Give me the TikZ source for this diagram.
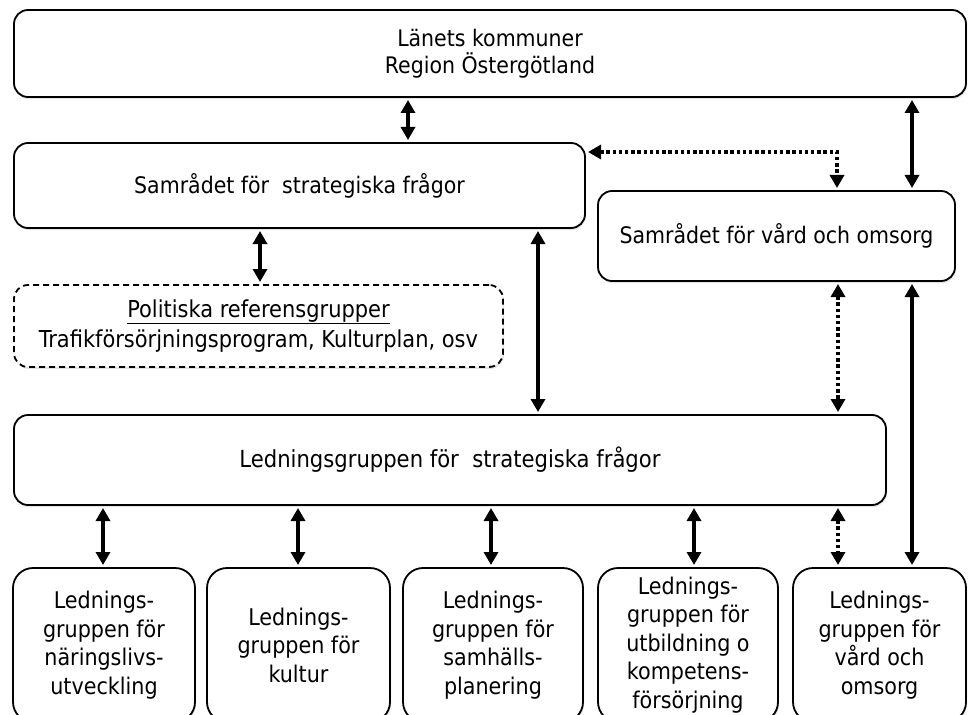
\documentclass[tikz,border=0pt]{standalone}
\usepackage{fontspec}
\setmainfont{DejaVu Sans Condensed}
\usetikzlibrary{arrows.meta,shadows,calc}
\begin{document}
\begin{tikzpicture}[x=1pt,y=-1pt,
  box/.style={draw, line width=1.8pt, rounded corners=14pt, fill=white, align=center,
    inner sep=0pt, outer sep=0pt,
    drop shadow={opacity=0.22, shadow xshift=1pt, shadow yshift=-2pt},
    font=\fontsize{22.8}{27}\selectfont},
  dbox/.style={box, dashed, dash pattern=on 6pt off 4pt},
  lbox/.style={box, rounded corners=20pt, font=\fontsize{23}{28.5}\selectfont},
  arr/.style={line width=3.4pt, {Triangle[width=14pt,length=13pt]}-{Triangle[width=14pt,length=13pt]},
    shorten <=3pt, shorten >=3pt},
  darr/.style={arr, dash pattern=on 3.4pt off 2.8pt}
]
\useasboundingbox (0,0) rectangle (968,714);
\clip (0,0) rectangle (968,714);

% boxes
\node[box, minimum width=952, minimum height=87] (top) at (490,53.5)
  {Länets kommuner\\Region Östergötland};
\node[box, minimum width=571, minimum height=85] (sam) at (299.5,185.5)
  {Samrådet för~ strategiska frågor};
\node[box, minimum width=357, minimum height=90] (vard) at (776.5,236)
  {Samrådet för vård och omsorg};
\node[dbox, minimum width=489, minimum height=82, font=\fontsize{23.3}{30}\selectfont] (pol) at (258.5,326)
  {\underline{Politiska referensgrupper}\\Trafikförsörjningsprogram, Kulturplan, osv};
\node[box, minimum width=872, minimum height=90, font=\fontsize{23.5}{27}\selectfont] (led) at (450,460)
  {Ledningsgruppen för~ strategiska frågor};

\node[lbox, minimum width=182, minimum height=154] (b1) at (104,645)
  {Lednings-\\gruppen för\\näringslivs-\\utveckling};
\node[lbox, minimum width=183, minimum height=154] (b2) at (298.5,645)
  {Lednings-\\gruppen för\\kultur};
\node[lbox, minimum width=180, minimum height=154] (b3) at (493,645)
  {Lednings-\\gruppen för\\samhälls-\\planering};
\node[lbox, minimum width=180, minimum height=154] (b4) at (688,645)
  {Lednings-\\gruppen för\\utbildning o\\kompetens-\\försörjning};
\node[lbox, minimum width=173, minimum height=154] (b5) at (879.5,645)
  {Lednings-\\gruppen för\\vård och\\omsorg};

% x positions of connectors
\coordinate (xa) at (408,0);
\coordinate (xb) at (260,0);
\coordinate (xc) at (538,0);
\coordinate (xd) at (837,152);
\coordinate (xe) at (912,0);
\coordinate (x1) at (103,0);
\coordinate (x2) at (298,0);
\coordinate (x3) at (491,0);
\coordinate (x4) at (694,0);
\coordinate (x5) at (838,0);

% connectors
\draw[arr] (top.south -| xa) -- (sam.north -| xa);
\draw[darr] (sam.east |- xd) -| (vard.north -| xd);
\draw[arr] (top.south -| xe) -- (vard.north -| xe);
\draw[arr] (sam.south -| xb) -- (pol.north -| xb);
\draw[arr] (sam.south -| xc) -- (led.north -| xc);
\draw[darr] (vard.south -| x5) -- (led.north -| x5);
\draw[arr] (vard.south -| xe) -- (b5.north -| xe);

\draw[arr] (led.south -| x1) -- (b1.north -| x1);
\draw[arr] (led.south -| x2) -- (b2.north -| x2);
\draw[arr] (led.south -| x3) -- (b3.north -| x3);
\draw[arr] (led.south -| x4) -- (b4.north -| x4);
\draw[darr] (led.south -| x5) -- (b5.north -| x5);
\end{tikzpicture}
\end{document}
